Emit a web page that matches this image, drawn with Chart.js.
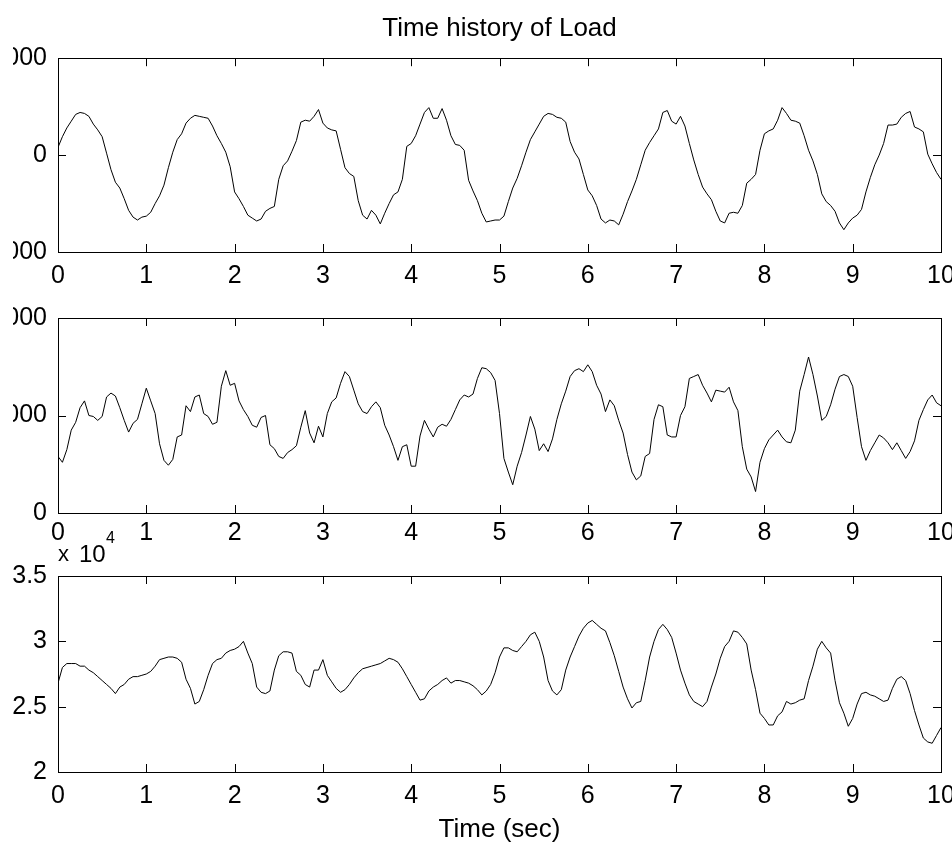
<!DOCTYPE html>
<html><head><meta charset="utf-8">
<script src="https://cdn.jsdelivr.net/npm/chart.js@4.4.0/dist/chart.umd.min.js"></script>
<style>
html,body{margin:0;padding:0;background:#fff;width:952px;height:846px;overflow:hidden;}
#clip{position:absolute;left:13px;top:0;width:939px;height:846px;overflow:hidden;background:#fff;}
canvas{position:absolute;left:-53px;}
</style></head><body>
<div id="clip">
<canvas id="c1" width="1005" height="297" style="top:0px"></canvas>
<canvas id="c2" width="1005" height="265" style="top:288px"></canvas>
<canvas id="c3" width="1005" height="326" style="top:520px"></canvas>
</div>
<script>
// time axis (sec)
const time = [
0,0.05,0.1,0.15,0.2,0.25,0.3,0.35,0.4,0.45,0.5,0.55,0.6,0.65,0.7,0.75,0.8,0.85,0.9,0.95,
1,1.05,1.1,1.15,1.2,1.25,1.3,1.35,1.4,1.45,1.5,1.55,1.6,1.65,1.7,1.75,1.8,1.85,1.9,1.95,
2,2.05,2.1,2.15,2.2,2.25,2.3,2.35,2.4,2.45,2.5,2.55,2.6,2.65,2.7,2.75,2.8,2.85,2.9,2.95,
3,3.05,3.1,3.15,3.2,3.25,3.3,3.35,3.4,3.45,3.5,3.55,3.6,3.65,3.7,3.75,3.8,3.85,3.9,3.95,
4,4.05,4.1,4.15,4.2,4.25,4.3,4.35,4.4,4.45,4.5,4.55,4.6,4.65,4.7,4.75,4.8,4.85,4.9,4.95,
5,5.05,5.1,5.15,5.2,5.25,5.3,5.35,5.4,5.45,5.5,5.55,5.6,5.65,5.7,5.75,5.8,5.85,5.9,5.95,
6,6.05,6.1,6.15,6.2,6.25,6.3,6.35,6.4,6.45,6.5,6.55,6.6,6.65,6.7,6.75,6.8,6.85,6.9,6.95,
7,7.05,7.1,7.15,7.2,7.25,7.3,7.35,7.4,7.45,7.5,7.55,7.6,7.65,7.7,7.75,7.8,7.85,7.9,7.95,
8,8.05,8.1,8.15,8.2,8.25,8.3,8.35,8.4,8.45,8.5,8.55,8.6,8.65,8.7,8.75,8.8,8.85,8.9,8.95,
9,9.05,9.1,9.15,9.2,9.25,9.3,9.35,9.4,9.45,9.5,9.55,9.6,9.65,9.7,9.75,9.8,9.85,9.9,9.95,
10];

// panel 1 load
const load1 = [
80,190,280,350,420,440,430,400,320,260,190,20,-150,-280,-340,-450,-570,-640,-670,-640,
-630,-590,-500,-420,-310,-130,30,160,220,330,380,410,400,390,380,300,200,120,30,-120,
-380,-450,-530,-620,-650,-680,-660,-580,-550,-530,-250,-110,-60,40,150,340,360,350,400,470,
330,280,260,250,60,-130,-190,-220,-470,-620,-660,-570,-620,-710,-600,-500,-410,-380,-250,90,
120,200,320,440,490,380,380,480,360,200,110,100,50,-260,-370,-470,-600,-690,-680,-670,
-670,-630,-480,-340,-240,-110,30,160,240,320,400,430,420,390,380,340,140,30,-40,-200,
-360,-420,-520,-660,-700,-670,-680,-720,-610,-480,-370,-250,-100,50,130,200,270,440,460,350,
320,400,300,120,-50,-200,-330,-400,-460,-580,-680,-700,-600,-590,-600,-520,-290,-250,-200,50,
220,250,270,360,490,430,360,350,330,200,50,-60,-200,-400,-480,-520,-580,-700,-770,-700,
-650,-620,-560,-380,-230,-100,0,120,310,310,320,390,430,450,290,270,240,10,-90,-180,
-250];

// panel 2 load
const load2 = [
580,520,650,850,930,1080,1150,1000,990,950,990,1190,1230,1200,1080,950,830,920,960,1120,
1280,1150,1020,710,540,490,550,780,800,1100,1040,1190,1210,1020,990,910,930,1300,1460,1310,
1330,1150,1060,990,900,880,980,1000,700,660,580,560,620,650,690,880,1050,820,720,890,
780,1020,1140,1180,1330,1450,1400,1260,1120,1040,1020,1090,1140,1080,900,800,680,540,680,700,
480,480,790,950,860,780,880,910,890,960,1060,1160,1210,1190,1220,1380,1490,1480,1440,1360,
1020,560,420,290,480,620,800,990,860,640,710,630,760,960,1120,1250,1400,1460,1480,1450,
1520,1450,1310,1220,1040,1160,1100,950,820,600,420,340,380,580,610,960,1110,1090,800,780,
780,1000,1090,1380,1400,1420,1310,1230,1140,1260,1250,1240,1290,1140,1050,680,450,370,220,520,
660,750,800,850,780,730,720,850,1250,1420,1600,1420,1200,950,990,1110,1270,1400,1420,1400,
1300,980,680,540,640,720,800,770,720,650,720,640,560,630,740,950,1060,1160,1210,1130,
1100];

// panel 3 load (x 10^4)
const load3 = [
2.68,2.80,2.83,2.83,2.83,2.81,2.81,2.78,2.76,2.73,2.70,2.67,2.64,2.60,2.65,2.67,2.71,2.73,2.73,2.74,
2.75,2.77,2.81,2.86,2.87,2.88,2.88,2.87,2.84,2.71,2.64,2.52,2.54,2.63,2.74,2.83,2.86,2.87,2.91,2.93,
2.94,2.96,3.00,2.91,2.83,2.65,2.61,2.60,2.62,2.78,2.89,2.92,2.92,2.91,2.77,2.74,2.67,2.65,2.78,2.78,
2.86,2.74,2.69,2.64,2.61,2.63,2.67,2.72,2.76,2.79,2.80,2.81,2.82,2.83,2.85,2.87,2.86,2.84,2.79,2.73,
2.67,2.61,2.55,2.56,2.62,2.65,2.67,2.70,2.72,2.68,2.70,2.70,2.69,2.68,2.66,2.63,2.59,2.62,2.67,2.76,
2.88,2.95,2.95,2.93,2.92,2.96,3.00,3.05,3.07,3.00,2.88,2.70,2.62,2.59,2.63,2.78,2.88,2.96,3.04,3.10,
3.14,3.16,3.13,3.10,3.08,2.99,2.89,2.77,2.65,2.56,2.49,2.53,2.54,2.70,2.88,3.00,3.09,3.13,3.09,3.03,
2.91,2.78,2.68,2.59,2.54,2.52,2.50,2.54,2.65,2.75,2.87,2.96,3.00,3.08,3.07,3.03,2.98,2.78,2.63,2.45,
2.41,2.36,2.36,2.43,2.46,2.54,2.52,2.53,2.55,2.56,2.70,2.81,2.94,3.00,2.95,2.91,2.70,2.53,2.45,2.35,
2.41,2.52,2.60,2.61,2.59,2.58,2.56,2.54,2.55,2.64,2.71,2.73,2.70,2.60,2.47,2.36,2.26,2.23,2.22,2.28,
2.34];

// tick values
const xTicks = [0,1,2,3,4,5,6,7,8,9,10];
const y1Ticks = [-1000,0,1000];
const y2Ticks = [0,1000,2000];
const y3Ticks = [2,2.5,3,3.5];

const FONT = 'Liberation Sans, Arial, sans-serif';

const boxTicks = {
  id: 'boxTicks',
  afterDatasetsDraw(chart) {
    const {ctx, chartArea: a, scales: {x, y}} = chart;
    ctx.save();
    ctx.strokeStyle = '#000';
    ctx.lineWidth = 1;
    ctx.beginPath();
    x.ticks.forEach(t => {
      const px = Math.round(x.getPixelForValue(t.value)) + 0.5;
      ctx.moveTo(px, a.bottom); ctx.lineTo(px, a.bottom - 8);
      ctx.moveTo(px, a.top); ctx.lineTo(px, a.top + 8);
    });
    y.ticks.forEach(t => {
      const py = Math.round(y.getPixelForValue(t.value)) + 0.5;
      ctx.moveTo(a.left, py); ctx.lineTo(a.left + 8, py);
      ctx.moveTo(a.right, py); ctx.lineTo(a.right - 8, py);
    });
    ctx.stroke();
    ctx.strokeRect(Math.round(a.left) + 0.5, Math.round(a.top) + 0.5, Math.round(a.width), Math.round(a.height));
    ctx.restore();
  }
};

const expLabel = {
  id: 'expLabel',
  afterDraw(chart, args, opts) {
    if (!opts.show) return;
    const {ctx, chartArea: a} = chart;
    ctx.save();
    ctx.fillStyle = '#000';
    ctx.textBaseline = 'alphabetic';
    ctx.textAlign = 'left';
    ctx.font = '22px ' + FONT;
    ctx.fillText('x', a.left, a.top - 15);
    ctx.font = '24px ' + FONT;
    ctx.fillText('10', a.left + 21, a.top - 14);
    ctx.font = '16px ' + FONT;
    ctx.fillText('4', a.left + 48, a.top - 33);
    ctx.restore();
  }
};

function makeChart(id, data, yTicks, ymin, ymax, opt) {
  const cfg = {
    type: 'line',
    data: {
      datasets: [{
        data: time.map((t, i) => ({x: t, y: data[i]})),
        borderColor: '#000',
        borderWidth: 1,
        pointRadius: 0,
        tension: 0,
        fill: false
      }]
    },
    options: {
      responsive: false,
      animation: false,
      devicePixelRatio: 1,
      layout: {padding: {top: opt.padTop, right: 24, left: 0, bottom: 0}},
      plugins: {
        legend: {display: false},
        tooltip: {enabled: false},
        title: opt.title ? {
          display: true, text: opt.title, color: '#000', fullSize: false,
          font: {family: FONT, size: 26, weight: 'normal'},
          padding: {top: 13, bottom: 14}
        } : {display: false},
        expLabel: {show: !!opt.exp}
      },
      scales: {
        x: {
          type: 'linear', min: 0, max: 10,
          afterBuildTicks: s => { s.ticks = xTicks.map(v => ({value: v})); },
          afterFit: s => { s.height = opt.xH; },
          grid: {display: false, drawTicks: false},
          border: {display: false},
          ticks: {
            color: '#000', padding: opt.xPad, maxRotation: 0, autoSkip: false,
            font: {family: FONT, size: 25},
            callback: v => String(v)
          },
          title: opt.xTitle ? {
            display: true, text: opt.xTitle, color: '#000',
            font: {family: FONT, size: 26}, padding: {top: 0, bottom: 1}
          } : {display: false}
        },
        y: {
          type: 'linear', min: ymin, max: ymax,
          afterBuildTicks: s => { s.ticks = yTicks.map(v => ({value: v})); },
          afterFit: s => { s.width = 98; },
          grid: {display: false, drawTicks: false},
          border: {display: false},
          ticks: {
            color: '#000', padding: 11, autoSkip: false,
            font: {family: FONT, size: 25},
            callback: v => String(v)
          }
        }
      }
    },
    plugins: [boxTicks, expLabel]
  };
  return new Chart(document.getElementById(id), cfg);
}

makeChart('c1', load1, y1Ticks, -1000, 1000, {title: 'Time history of Load', padTop: 0, xH: 45, xPad: 9});
makeChart('c2', load2, y2Ticks, 0, 2000, {padTop: 30, xH: 40, xPad: 5});
makeChart('c3', load3, y3Ticks, 2, 3.5, {padTop: 56, xH: 74, xPad: 9, xTitle: 'Time (sec)', exp: true});
</script>
</body></html>
